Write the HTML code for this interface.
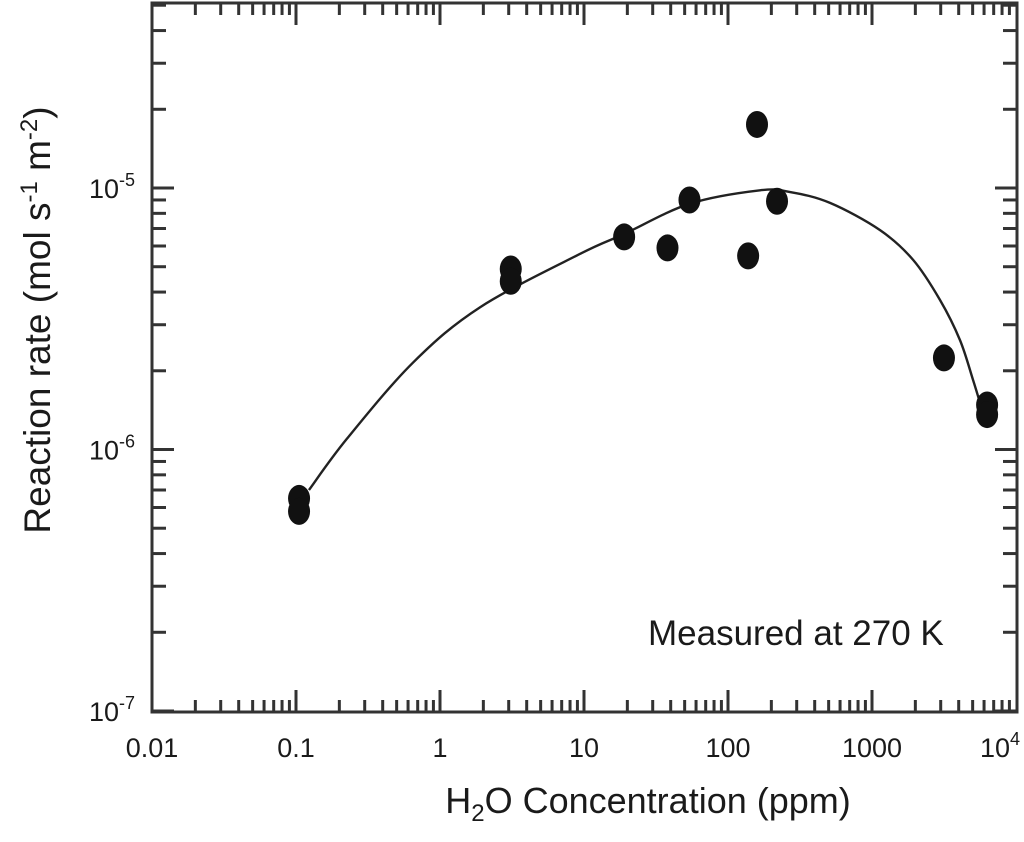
<!DOCTYPE html>
<html><head><meta charset="utf-8"><style>
body{margin:0;background:#fff;}
svg text{font-family:"Liberation Sans",Arial,sans-serif;fill:#1a1a1a;}
</style></head><body>
<svg id="chart" width="1024" height="837" viewBox="0 0 1024 837" xmlns="http://www.w3.org/2000/svg">
<g id="ticks"></g>
<path id="curve" fill="none" stroke="#222" stroke-width="2.4"/>
<g id="points"></g>
<rect x="152" y="3" width="865" height="709" fill="none" stroke="#333" stroke-width="3"/>
<g id="labels" font-size="27"></g>
<text x="648" y="645" font-size="35">Measured at 270 K</text>
<text x="648" y="813" font-size="36" text-anchor="middle">H<tspan font-size="24" dy="8">2</tspan><tspan dy="-8">O Concentration (ppm)</tspan></text>
<text transform="translate(50,320) rotate(-90)" font-size="37" text-anchor="middle">Reaction rate (mol s<tspan font-size="24" dy="-13">-1</tspan><tspan dy="13"> m</tspan><tspan font-size="24" dy="-13">-2</tspan><tspan dy="13">)</tspan></text>
</svg>
<script>
const xPts=[0.105,0.105,3.1,3.1,19,38,54,138,159,219,3160,6300,6300];
const yPts=[6.5e-7,5.8e-7,4.9e-6,4.4e-6,6.5e-6,5.9e-6,9e-6,5.5e-6,1.75e-5,8.9e-6,2.24e-6,1.48e-6,1.36e-6];
const curveX=[0.123,0.226,0.65,1.9,9.4,19,54,167,270,511,1137,1930,2967,4083,5023,5623];
const curveY=[7.0e-7,1.1e-6,2.15e-6,3.5e-6,5.6e-6,6.67e-6,8.7e-6,9.8e-6,9.65e-6,8.77e-6,6.9e-6,5.31e-6,3.73e-6,2.62e-6,1.85e-6,1.51e-6];
const xTickLabels=["0.01","0.1","1","10","100","1000"];
const yTickExps=[-7,-6,-5];
const NS="http://www.w3.org/2000/svg";
const X=v=>152+144*(Math.log10(v)+2);
const Y=v=>188-261.5*(Math.log10(v)+5);
function mk(tag,attrs,parent){const e=document.createElementNS(NS,tag);for(const k in attrs)e.setAttribute(k,attrs[k]);parent.appendChild(e);return e;}
const tk=document.getElementById('ticks');
for(let d=-2;d<4;d++){for(let m=1;m<10;m++){const x=X(m*Math.pow(10,d));const L=m==1?22:12;
 const a=mk('line',{x1:x,x2:x,y1:712,y2:712-L,stroke:'#333','stroke-width':3},tk);
 
 const b=mk('line',{x1:x,x2:x,y1:3,y2:3+L,stroke:'#333','stroke-width':3},tk);
 }}
for(let d=-7;d<-4;d++){for(let m=1;m<10;m++){const v=m*Math.pow(10,d);const y=Y(v);if(y<3)continue;const L=m==1?22:14;
 const a=mk('line',{x1:152,x2:152+L,y1:y,y2:y,stroke:'#333','stroke-width':3},tk);
 
 const b=mk('line',{x1:1017,x2:1017-L,y1:y,y2:y,stroke:'#333','stroke-width':3},tk);
 }}
const lb=document.getElementById('labels');
xTickLabels.forEach((t,i)=>{const e=mk('text',{x:X(Math.pow(10,i-2)),y:757,'text-anchor':'middle'},lb);e.textContent=t;
 });
const e4=mk('text',{x:1000,y:757,'text-anchor':'middle'},lb);e4.innerHTML='10<tspan font-size="18" dy="-12">4</tspan>';

yTickExps.forEach(p=>{const e=mk('text',{x:135,y:Y(Math.pow(10,p))+10,'text-anchor':'end'},lb);e.innerHTML='10<tspan font-size="18" dy="-12">'+p+'</tspan>';
 });
const P=curveX.map((v,i)=>[X(v),Y(curveY[i])]);
let d='M'+P[0][0]+','+P[0][1];
for(let i=0;i<P.length-1;i++){const p0=P[Math.max(0,i-1)],p1=P[i],p2=P[i+1],p3=P[Math.min(P.length-1,i+2)];
 d+=` C${p1[0]+(p2[0]-p0[0])/6},${p1[1]+(p2[1]-p0[1])/6} ${p2[0]-(p3[0]-p1[0])/6},${p2[1]-(p3[1]-p1[1])/6} ${p2[0]},${p2[1]}`;}
document.getElementById('curve').setAttribute('d',d);
const pg=document.getElementById('points');
xPts.forEach((v,i)=>{const c=mk('ellipse',{cx:X(v),cy:Y(yPts[i]),rx:11,ry:13.5,fill:'#111'},pg);
 });
</script>
</body></html>
